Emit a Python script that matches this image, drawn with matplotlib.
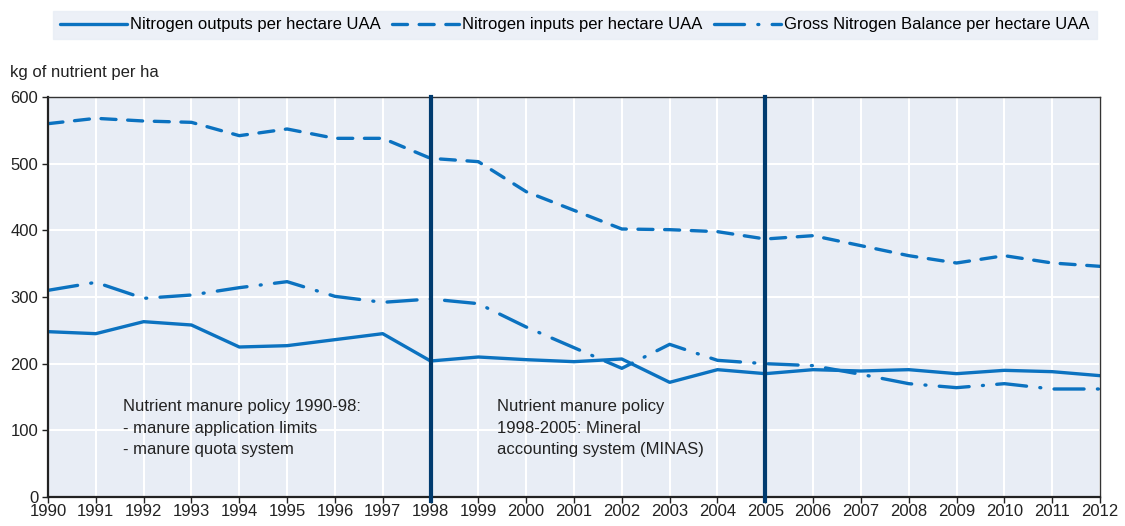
import matplotlib
matplotlib.use("Agg")
from matplotlib import pyplot as plt

plt.rcParams["font.family"] = ["Liberation Sans Narrow", "Liberation Sans", "DejaVu Sans"]

# data
years = list(range(1990, 2013))
outputs = [248, 245, 263, 258, 225, 227, 236, 245, 204, 210, 206, 203, 207, 172,
           191, 185, 191, 189, 191, 185, 190, 188, 182]
inputs = [560, 568, 564, 562, 542, 552, 538, 538, 508, 503, 458, 430, 402, 401,
          398, 387, 392, 377, 362, 351, 362, 351, 346]
balance = [310, 322, 298, 303, 314, 323, 301, 292, 297, 290, 255, 224, 193, 229,
           205, 200, 197, 184, 170, 164, 170, 162, 162]
policy_years = [1998, 2005]
labels = ["Nitrogen outputs per hectare UAA", "Nitrogen inputs per hectare UAA",
          "Gross Nitrogen Balance per hectare UAA"]

blue = "#0b72c0"
navy = "#003b6f"
bg = "#e8edf5"
fs = 12

fig = plt.figure(figsize=(11.25, 5.26), dpi=100)
ax = fig.add_axes([48 / 1125, 29 / 526, 1052 / 1125, 400 / 526])
ax.set_facecolor(bg)

ax.plot(years, outputs, color=blue, lw=2.4, label=labels[0], solid_capstyle="round")
ax.plot(years, inputs, color=blue, lw=2.4, label=labels[1], dashes=(4.5, 3.5),
        dash_capstyle="round")
ax.plot(years, balance, color=blue, lw=2.4, label=labels[2], dashes=(9, 4, 0.3, 4),
        dash_capstyle="round")

for yr in policy_years:
    ax.axvline(yr, ymin=-0.01, ymax=1, color=navy, lw=3, clip_on=False, zorder=5)

ax.set_xlim(1990, 2012)
ax.set_ylim(0, 600)
ax.set_xticks(years)
ax.set_yticks(range(0, 601, 100))
ax.grid(True, color="white", lw=1.5)
ax.set_axisbelow(True)
ax.tick_params(axis="both", labelsize=fs, color="#222222", length=4, width=1,
               labelcolor="#222222")
ax.tick_params(axis="x", pad=1)
ax.tick_params(axis="y", pad=3)
for side in ["left", "bottom"]:
    ax.spines[side].set_linewidth(1.6)
    ax.spines[side].set_color("#222222")
for side in ["top", "right"]:
    ax.spines[side].set_linewidth(1)
    ax.spines[side].set_color("#333333")

ax.text(1991.57, 147, "Nutrient manure policy 1990-98:\n- manure application limits\n- manure quota system",
        fontsize=fs, color="#222222", va="top", linespacing=1.55)
ax.text(1999.4, 147, "Nutrient manure policy\n1998-2005: Mineral\naccounting system (MINAS)",
        fontsize=fs, color="#222222", va="top", linespacing=1.55)

fig.text(10 / 1125, 1 - 72 / 526, "kg of nutrient per ha", fontsize=fs, color="#222222",
         va="center")

leg = fig.legend(loc="center", bbox_to_anchor=(575 / 1125, 1 - 25 / 526), ncol=3,
                 fontsize=fs, frameon=True, handlelength=4.0, handletextpad=0.2,
                 columnspacing=0.7, borderpad=0.4)
leg.get_frame().set_facecolor(bg)
leg.get_frame().set_edgecolor(bg)
leg.get_frame().set_boxstyle("square", pad=0)

fig.savefig("out.png", dpi=100)
